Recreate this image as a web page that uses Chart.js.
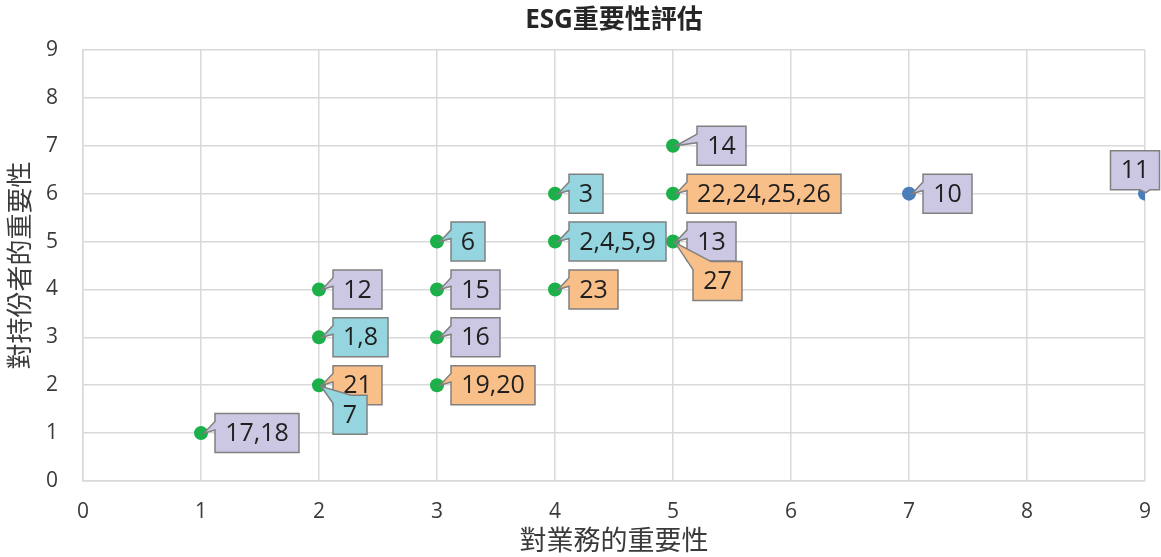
<!DOCTYPE html>
<html>
<head>
<meta charset="utf-8">
<script src="https://cdn.jsdelivr.net/npm/chart.js@4/dist/chart.umd.min.js"></script>
<style>
  body { margin: 0; background: #fff; }
</style>
</head>
<body>
<canvas id="myChart" width="1161" height="557"></canvas>
<script>
// data
const greenX = [1, 2, 2, 2, 3, 3, 3, 3, 4, 4, 4, 5, 5, 5];
const greenY = [1, 2, 3, 4, 2, 3, 4, 5, 4, 5, 6, 5, 6, 7];
const greenLabels = [['17,18'], ['21', '7'], ['1,8'], ['12'], ['19,20'], ['16'], ['15'], ['6'],
  ['23'], ['2,4,5,9'], ['3'], ['13', '27'], ['22,24,25,26'], ['14']];
const greenGroups = [['lav'], ['org', 'cyan'], ['cyan'], ['lav'], ['org'], ['lav'], ['lav'], ['cyan'],
  ['org'], ['cyan'], ['cyan'], ['lav', 'org'], ['org'], ['lav']];

const blueX = [7, 9];
const blueY = [6, 6];
const blueLabels = [['10'], ['11']];
const blueGroups = [['lav'], ['lav']];

const tickValues = [0, 1, 2, 3, 4, 5, 6, 7, 8, 9];

const groupFill = { lav: '#ccc8e3', org: '#f9bf88', cyan: '#94d5e0' };

// where a callout sits when it is not the usual box to the right
const calloutPlace = {
  '7': { side: 'top', dx: 14, dy: 10 },
  '27': { side: 'top', dx: 20, dy: 20 },
  '11': { side: 'bottom', dx: -10, dy: -4 },
  '14': { side: 'left', dx: 24, dy: 0 }
};

const FONT = "'Open Sans', 'Noto Sans CJK TC', sans-serif";

function drawCallout(ctx, px, py, text, fill) {
  const place = calloutPlace[text] || { side: 'left', dx: 14, dy: 0 };
  ctx.font = '25px ' + FONT;
  const w = Math.round(ctx.measureText(text).width + 20);
  const h = 39;
  let x, y;
  ctx.beginPath();
  if (place.side === 'left') {
    x = px + place.dx; y = py - h / 2 + place.dy;
    ctx.moveTo(x, y);
    ctx.lineTo(x + w, y);
    ctx.lineTo(x + w, y + h);
    ctx.lineTo(x, y + h);
    ctx.lineTo(x, y + h * 0.42);
    ctx.lineTo(px + 3, py);
    ctx.lineTo(x, y + h * 0.2);
    ctx.closePath();
  } else if (place.side === 'top') {
    x = px + place.dx; y = py + place.dy;
    ctx.moveTo(x, y + 8);
    ctx.lineTo(px + 2, py + 1);
    ctx.lineTo(x + 18, y);
    ctx.lineTo(x + w, y);
    ctx.lineTo(x + w, y + h);
    ctx.lineTo(x, y + h);
    ctx.closePath();
  } else {
    const cx = px + place.dx;
    x = cx - w / 2; y = py + place.dy - h;
    ctx.moveTo(x, y);
    ctx.lineTo(x + w, y);
    ctx.lineTo(x + w, y + h);
    ctx.lineTo(cx + 15, y + h);
    ctx.lineTo(px + 1, py - 1);
    ctx.lineTo(cx + 5, y + h);
    ctx.lineTo(x, y + h);
    ctx.closePath();
  }
  ctx.fillStyle = fill;
  ctx.fill();
  ctx.lineWidth = 1.5;
  ctx.strokeStyle = '#808080';
  ctx.stroke();
  ctx.fillStyle = '#1f1f1f';
  ctx.textAlign = 'center';
  ctx.textBaseline = 'middle';
  ctx.fillText(text, x + w / 2, y + h / 2 + 1);
}

const calloutPlugin = {
  id: 'callouts',
  afterDatasetsDraw(chart) {
    const ctx = chart.ctx;
    ctx.save();
    chart.data.datasets.forEach((ds, di) => {
      const meta = chart.getDatasetMeta(di);
      meta.data.forEach((pt, i) => {
        ds.callouts[i].forEach((txt, k) => {
          drawCallout(ctx, pt.x, pt.y, txt, groupFill[ds.groups[i][k]]);
        });
      });
    });
    ctx.restore();
  }
};

const ctx = document.getElementById('myChart');

new Chart(ctx, {
  type: 'scatter',
  data: {
    datasets: [{
      data: greenX.map((v, i) => ({ x: v, y: greenY[i] })),
      callouts: greenLabels,
      groups: greenGroups,
      backgroundColor: '#1bb04a',
      borderWidth: 0,
      pointRadius: 7
    }, {
      data: blueX.map((v, i) => ({ x: v, y: blueY[i] })),
      callouts: blueLabels,
      groups: blueGroups,
      backgroundColor: '#4a7dba',
      borderWidth: 0,
      pointRadius: 7
    }]
  },
  options: {
    responsive: false,
    animation: false,
    devicePixelRatio: 1,
    layout: { padding: { left: 0, right: 16, top: 0, bottom: 0 } },
    plugins: {
      legend: { display: false },
      tooltip: { enabled: false },
      title: {
        display: true,
        fullSize: false,
        text: 'ESG重要性評估',
        color: '#262626',
        font: { family: FONT, size: 26, weight: 'bold', lineHeight: 1.2 },
        padding: { top: 5, bottom: 13.8 }
      }
    },
    scales: {
      x: {
        type: 'linear',
        min: 0,
        max: 9,
        afterBuildTicks: s => { s.ticks = tickValues.map(v => ({ value: v })); },
        afterFit: s => { s.height = 76; s.paddingLeft = 0; s.paddingRight = 0; },
        ticks: { color: '#3a3a3a', font: { family: FONT, size: 21 }, padding: 18 },
        grid: { color: '#d9d9d9', lineWidth: 1.5, drawTicks: false },
        border: { color: '#d9d9d9', width: 1.5 },
        title: {
          display: true,
          text: '對業務的重要性',
          color: '#3a3a3a',
          font: { family: FONT, size: 27, lineHeight: 1 },
          padding: { top: 0, bottom: 1 }
        }
      },
      y: {
        type: 'linear',
        min: 0,
        max: 9,
        afterBuildTicks: s => { s.ticks = tickValues.map(v => ({ value: v })); },
        afterFit: s => { s.width = 83; },
        ticks: { color: '#3a3a3a', font: { family: FONT, size: 21 }, padding: 25 },
        grid: { color: '#d9d9d9', lineWidth: 1.5, drawTicks: false },
        border: { color: '#d9d9d9', width: 1.5 },
        title: {
          display: true,
          text: '對持份者的重要性',
          color: '#3a3a3a',
          font: { family: FONT, size: 26, lineHeight: 1 },
          padding: { top: 9, bottom: 0 }
        }
      }
    }
  },
  plugins: [calloutPlugin]
});
</script>
</body>
</html>
